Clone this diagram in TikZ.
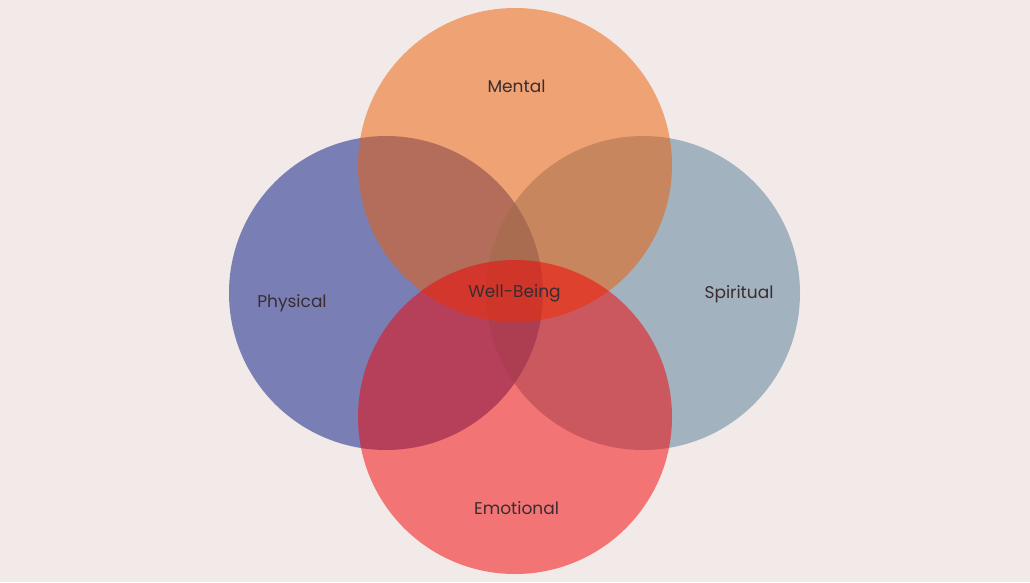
\documentclass[tikz,border=0pt]{standalone}
\usepackage{fontspec}
\setmainfont{Poppins}
\definecolor{bgc}{RGB}{242,234,233}
\definecolor{physc}{RGB}{2,22,131}
\definecolor{spirc}{RGB}{84,124,149}
\definecolor{mentc}{RGB}{238,92,0}
\definecolor{emoc}{RGB}{244,0,0}
\definecolor{txtc}{RGB}{58,44,48}
\tikzset{
  venn/.style={circle, draw=none, inner sep=0pt, minimum size=314pt, fill opacity=0.5},
  lbl/.style={anchor=base, text=txtc, font=\fontsize{17}{20}\selectfont, inner sep=0pt}
}
\begin{document}
\begin{tikzpicture}[x=1pt,y=-1pt]
\fill[bgc] (0,0) rectangle (1030,582);
\useasboundingbox (0,0) rectangle (1030,582);
\node[venn, fill=physc] (physical) at (386,293) {};
\node[venn, fill=spirc] (spiritual) at (643,293) {};
\node[venn, fill=mentc] (mental) at (515,165) {};
\node[venn, fill=emoc] (emotional) at (515,417) {};
\node[lbl] (tm) at (516.5,92) {Mental};
\node[lbl] (tp) at (292,307) {Physical};
\node[lbl] (ts) at (739,298) {Spiritual};
\node[lbl] (tw) at (514.5,297) {Well-Being};
\node[lbl] (te) at (516.5,514) {Emotional};
\end{tikzpicture}
\end{document}
